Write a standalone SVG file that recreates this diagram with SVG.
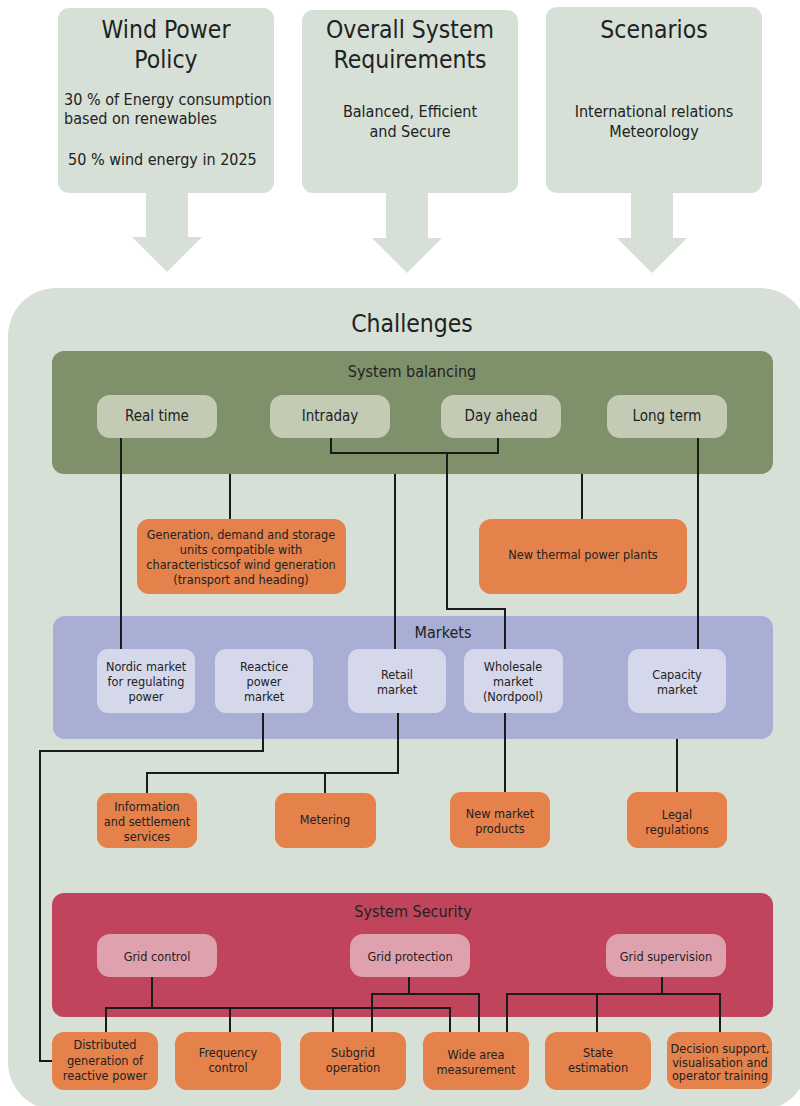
<svg xmlns="http://www.w3.org/2000/svg" width="800" height="1106" viewBox="0 0 800 1106">
<style>
text { font-family: "DejaVu Sans Condensed", "DejaVu Sans", sans-serif; font-stretch: condensed; fill: #222; text-anchor: middle; }
.big { font-size: 24.5px; }
.body { font-size: 16px; }
.sec { font-size: 16px; }
.sm { font-size: 12.6px; }
.pale { fill: #d6e0d6; }
.bal { fill: #7f916b; }
.balsub { fill: #c3cbb5; }
.mkt { fill: #a8aed4; }
.mktsub { fill: #d5d7ea; }
.sec-r { fill: #c0455c; }
.secsub { fill: #dfa1ad; }
.or { fill: #e5814a; }
.conn path { fill: none; stroke: #1a1a1a; stroke-width: 2; }
</style>
<rect width="800" height="1106" fill="#ffffff"/>

<g id="policy">
<rect class="pale" x="58" y="8" width="216" height="185" rx="11"/>
<polygon class="pale" points="146,192 188,192 188,237 202,237 167,272 132,237 146,237"/>
<text class="big" x="166" y="38">Wind Power</text>
<text class="big" x="166" y="68">Policy</text>
<text class="body" x="64" y="105" style="text-anchor:start">30 % of Energy consumption</text>
<text class="body" x="64" y="124" style="text-anchor:start">based on renewables</text>
<text class="body" x="68" y="165" style="text-anchor:start">50 % wind energy in 2025</text>
</g>

<g id="requirements">
<rect class="pale" x="302" y="10" width="216" height="183" rx="11"/>
<polygon class="pale" points="386,192 428,192 428,238 442,238 407,273 372,238 386,238"/>
<text class="big" x="410" y="38">Overall System</text>
<text class="big" x="410" y="68">Requirements</text>
<text class="body" x="410" y="117">Balanced, Efficient</text>
<text class="body" x="410" y="137">and Secure</text>
</g>

<g id="scenarios">
<rect class="pale" x="546" y="7" width="216" height="186" rx="11"/>
<polygon class="pale" points="631,192 673,192 673,238 687,238 652,273 617,238 631,238"/>
<text class="big" x="654" y="38">Scenarios</text>
<text class="body" x="654" y="117">International relations</text>
<text class="body" x="654" y="137">Meteorology</text>
</g>

<g id="challenges">
<rect class="pale" x="8" y="288" width="800" height="822" rx="48"/>
<text class="big" x="412" y="332">Challenges</text>
</g>

<g id="system-balancing">
<rect class="bal" x="52" y="351" width="721" height="123" rx="12"/>
<text class="sec" x="412" y="377">System balancing</text>
</g>

<g id="markets">
<rect class="mkt" x="53" y="616" width="720" height="123" rx="12"/>
<text class="sec" x="443" y="638">Markets</text>
</g>

<g id="system-security">
<rect class="sec-r" x="52" y="893" width="721" height="124" rx="12"/>
<text class="sec" x="413" y="917">System Security</text>
</g>

<g class="conn" id="connectors">
<path d="M121 438 V649"/>
<path d="M331 438 V453 H498 V438"/>
<path d="M447 453 V609 H505 V649"/>
<path d="M230 474 V519"/>
<path d="M395 474 V649"/>
<path d="M582 474 V519"/>
<path d="M698 438 V649"/>
<path d="M263 713 V751 H40 V1061 H52"/>
<path d="M398 713 V773 H147 V793"/>
<path d="M325 773 V793"/>
<path d="M505 713 V792"/>
<path d="M677 739 V792"/>
<path d="M152 977 V1008"/>
<path d="M106 1032 V1008 H450 V1032"/>
<path d="M230 1008 V1032"/>
<path d="M333 1008 V1032"/>
<path d="M409 977 V994"/>
<path d="M372 1032 V994 H479 V1032"/>
<path d="M662 977 V994"/>
<path d="M507 1032 V994 H720 V1032"/>
<path d="M597 994 V1032"/>
</g>

<g id="real-time"><rect class="balsub" x="97" y="395" width="120" height="43" rx="13"/><text class="body" style="font-size:15px" x="157" y="421">Real time</text></g>
<g id="intraday"><rect class="balsub" x="270" y="395" width="120" height="43" rx="13"/><text class="body" style="font-size:15px" x="330" y="421">Intraday</text></g>
<g id="day-ahead"><rect class="balsub" x="441" y="395" width="120" height="43" rx="13"/><text class="body" style="font-size:15px" x="501" y="421">Day ahead</text></g>
<g id="long-term"><rect class="balsub" x="607" y="395" width="120" height="43" rx="13"/><text class="body" style="font-size:15px" x="667" y="421">Long term</text></g>

<g id="generation-units"><rect class="or" x="137" y="519" width="209" height="75" rx="12"/>
<text class="sm" x="241" y="539">Generation, demand and storage</text>
<text class="sm" x="241" y="554">units compatible with</text>
<text class="sm" x="241" y="569">characteristicsof wind generation</text>
<text class="sm" x="241" y="584">(transport and heading)</text></g>
<g id="thermal"><rect class="or" x="479" y="519" width="208" height="75" rx="12"/>
<text class="sm" x="583" y="559">New thermal power plants</text></g>

<g id="nordic"><rect class="mktsub" x="97" y="649" width="98" height="64" rx="11"/>
<text class="sm" x="146" y="671">Nordic market</text><text class="sm" x="146" y="686">for regulating</text><text class="sm" x="146" y="701">power</text></g>
<g id="reactice"><rect class="mktsub" x="215" y="649" width="98" height="64" rx="11"/>
<text class="sm" x="264" y="671">Reactice</text><text class="sm" x="264" y="686">power</text><text class="sm" x="264" y="701">market</text></g>
<g id="retail"><rect class="mktsub" x="348" y="649" width="98" height="64" rx="11"/>
<text class="sm" x="397" y="679">Retail</text><text class="sm" x="397" y="694">market</text></g>
<g id="wholesale"><rect class="mktsub" x="464" y="649" width="99" height="64" rx="11"/>
<text class="sm" x="513" y="671">Wholesale</text><text class="sm" x="513" y="686">market</text><text class="sm" x="513" y="701">(Nordpool)</text></g>
<g id="capacity"><rect class="mktsub" x="628" y="649" width="98" height="64" rx="11"/>
<text class="sm" x="677" y="679">Capacity</text><text class="sm" x="677" y="694">market</text></g>

<g id="information"><rect class="or" x="97" y="793" width="100" height="55" rx="11"/>
<text class="sm" x="147" y="811">Information</text><text class="sm" x="147" y="826">and settlement</text><text class="sm" x="147" y="841">services</text></g>
<g id="metering"><rect class="or" x="275" y="793" width="101" height="55" rx="11"/>
<text class="sm" x="325" y="824">Metering</text></g>
<g id="new-products"><rect class="or" x="450" y="792" width="100" height="56" rx="11"/>
<text class="sm" x="500" y="818">New market</text><text class="sm" x="500" y="833">products</text></g>
<g id="legal"><rect class="or" x="627" y="792" width="100" height="56" rx="11"/>
<text class="sm" x="677" y="819">Legal</text><text class="sm" x="677" y="834">regulations</text></g>

<g id="grid-control"><rect class="secsub" x="97" y="934" width="120" height="43" rx="13"/><text class="sm" x="157" y="961">Grid control</text></g>
<g id="grid-protection"><rect class="secsub" x="350" y="934" width="120" height="43" rx="13"/><text class="sm" x="410" y="961">Grid protection</text></g>
<g id="grid-supervision"><rect class="secsub" x="606" y="934" width="120" height="43" rx="13"/><text class="sm" x="666" y="961">Grid supervision</text></g>

<g id="distributed"><rect class="or" x="52" y="1032" width="106" height="58" rx="12"/>
<text class="sm" x="105" y="1049">Distributed</text><text class="sm" x="105" y="1065">generation of</text><text class="sm" x="105" y="1080">reactive power</text></g>
<g id="frequency"><rect class="or" x="175" y="1032" width="106" height="58" rx="12"/>
<text class="sm" x="228" y="1057">Frequency</text><text class="sm" x="228" y="1072">control</text></g>
<g id="subgrid"><rect class="or" x="300" y="1032" width="106" height="58" rx="12"/>
<text class="sm" x="353" y="1057">Subgrid</text><text class="sm" x="353" y="1072">operation</text></g>
<g id="wide-area"><rect class="or" x="423" y="1032" width="106" height="58" rx="12"/>
<text class="sm" x="476" y="1059">Wide area</text><text class="sm" x="476" y="1074">measurement</text></g>
<g id="state"><rect class="or" x="545" y="1032" width="106" height="58" rx="12"/>
<text class="sm" x="598" y="1057">State</text><text class="sm" x="598" y="1072">estimation</text></g>
<g id="decision"><rect class="or" x="667" y="1032" width="105" height="57" rx="12"/>
<text class="sm" x="720" y="1053">Decision support,</text><text class="sm" x="720" y="1067">visualisation and</text><text class="sm" x="720" y="1080">operator training</text></g>
</svg>
